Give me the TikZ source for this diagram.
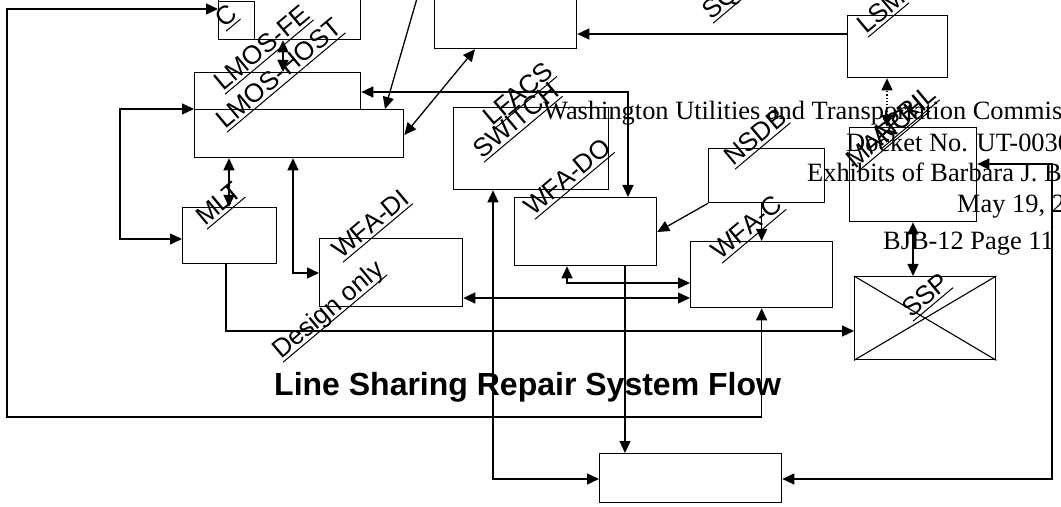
\documentclass[tikz,border=0pt]{standalone}
\usepackage{fontspec}
\setmainfont{Liberation Serif}
\newfontfamily\lblfont{Liberation Sans}
\usetikzlibrary{arrows.meta}
\newsavebox\ulbox
\newcommand\ulx[1]{\sbox\ulbox{#1}\rlap{\rule[-3.5bp]{\wd\ulbox}{1bp}}\usebox\ulbox}
\tikzset{
  box/.style={draw, line width=1.3bp, inner sep=0pt, anchor=north west},
  arr/.style={line width=1.3bp, -{Triangle[length=12bp,width=11bp]}},
  dbl/.style={line width=1.3bp, {Triangle[length=12bp,width=11bp]}-{Triangle[length=12bp,width=11bp]}},
  lbl/.style={font=\lblfont\fontsize{26bp}{30bp}\selectfont, rotate=40, anchor=base west, inner sep=0pt},
  wm/.style={font=\fontsize{26.4bp}{30bp}\selectfont, anchor=base west, inner sep=0pt},
  ttl/.style={font=\lblfont\bfseries\fontsize{32bp}{36bp}\selectfont, anchor=base west, inner sep=0pt}
}
\begin{document}
\begin{tikzpicture}[x=1bp,y=-1bp]
\useasboundingbox (0,0) rectangle (1061,507);
\clip (0,0) rectangle (1061,507);
% boxes
\node[box, minimum width=142bp, minimum height=59bp] (bigtop) at (218,-20) {};
\node[box, minimum width=36bp, minimum height=38bp] (c) at (218,1) {};
\node[box, minimum width=142bp, minimum height=68bp] (topbox) at (434,-20) {};
\node[box, minimum width=100bp, minimum height=62bp] (lsm) at (847,15) {};
\node[box, minimum width=166bp, minimum height=37bp] (lmosfe) at (194,72) {};
\node[box, minimum width=209bp, minimum height=48bp] (lmoshost) at (194,109) {};
\node[box, minimum width=155bp, minimum height=82bp] (lfacs) at (453,107) {};
\node[box, minimum width=116bp, minimum height=54bp] (nsdb) at (708,148) {};
\node[box, minimum width=127bp, minimum height=94bp] (march) at (849,127) {};
\node[box, minimum width=94bp, minimum height=56bp] (mlt) at (182,207) {};
\node[box, minimum width=142bp, minimum height=68bp] (wfado) at (514,197) {};
\node[box, minimum width=143bp, minimum height=68bp] (wfadi) at (319,238) {};
\node[box, minimum width=142bp, minimum height=66bp] (wfac) at (690,241) {};
\node[box, minimum width=141bp, minimum height=83bp] (ssp) at (854,276) {};
\node[box, minimum width=182bp, minimum height=49bp] (fas) at (599,453) {};
\draw[line width=1.1bp] (ssp.north west) -- (ssp.south east) (ssp.north east) -- (ssp.south west);
% free coordinates
\coordinate (loopBL) at (7,417);
\coordinate (loopTL) at (7,9);
\coordinate (lloopT) at (120,109);
\coordinate (lloopB) at (120,239);
\coordinate (topin) at (418,-5);
\coordinate (rtop) at (1052,164);
\coordinate (rbot) at (1052,479);
% connectors
\draw[dbl] (wfac.south) |- (loopBL) -- (loopTL) -- (c.west |- loopTL);
\draw[dbl] (bigtop.south -| 283,0) -- (lmosfe.north -| 283,0);
\draw[dbl] (lmosfe.east |- 0,92) -| (wfado.north -| 628,0);
\draw[arr] (topin) -- (lmoshost.north -| 385,0);
\draw[dbl] (topbox.south -| 475,0) -- (lmoshost.east |- 0,135);
\draw[arr] (lsm.west |- 0,34) -- (topbox.east |- 0,34);
\draw[dbl, dotted] (march.north -| 887,0) -- (lsm.south -| 887,0);
\draw[dbl] (march.south -| 913,0) -- (ssp.north -| 913,0);
\draw[dbl] (march.east |- rtop) -- (rtop) -- (rbot) -- (fas.east |- rbot);
\draw[dbl] (lmoshost.south -| 229,0) -- (mlt.north -| 229,0);
\draw[dbl] (lmoshost.north west) -- (lloopT) -- (lloopB) -- (mlt.west |- lloopB);
\draw[dbl] (lmoshost.south -| 293,0) |- (wfadi.west |- 0,273);
\draw[arr] (mlt.south -| 226,0) |- (ssp.west |- 0,331);
\draw[dbl] (wfadi.east |- 0,298) -- (wfac.west |- 0,298);
\draw[dbl] (wfado.south -| 567,0) |- (wfac.west |- 0,283);
\draw[arr] (wfado.south -| 625,0) -- (fas.north -| 625,0);
\draw[dbl] (lfacs.south -| 493,0) |- (fas.west |- 0,479);
\draw[arr] (nsdb.south west) -- (wfado.east |- 0,232);
\draw[arr] (nsdb.south -| wfac.north) -- (wfac.north);
% labels
\node[lbl] (lc) at (224,29) {\ulx{C}};
\node[lbl] (lfe) at (223,92) {\ulx{LMOS-FE}};
\node[lbl] (lhost) at (225,130) {\ulx{LMOS-HOST}};
\node[lbl] (llfacs) at (492,127) {\ulx{LFACS}};
\node[lbl] (lswitch) at (482,160) {\ulx{SWITCH}};
\node[lbl] (lwfado) at (533,217) {\ulx{WFA-DO}};
\node[lbl] (lnsdb) at (733,167) {\ulx{NSDB}};
\node[lbl] (lwfac) at (720,261) {\ulx{WFA-C}};
\node[lbl] (lwfadi) at (341,260) {\ulx{WFA-DI}};
\node[lbl] (ldesign) at (281,360) {\ulx{Design only}};
\node[lbl] (lmlt) at (205,227) {\ulx{MLT}};
\node[lbl] (lssp) at (911,319) {\ulx{SSP}};
\node[lbl] (lmarch) at (855,170) {\ulx{MARCH}};
\node[lbl] (lapril) at (880,146) {\ulx{APRIL}};
\node[lbl] (llsm) at (866,35) {\ulx{LSM}};
\node[lbl] (lsq) at (711,21) {\ulx{SQ}};
% title
\node[ttl] (title) at (274,395) {Line Sharing Repair System Flow};
% watermark
\node[wm] (w1) at (543,120) {Washington Utilities and Transportation Commission};
\node[wm] (w2) at (846,152) {Docket No. UT-0030};
\node[wm] (w3) at (807,182) {Exhibits of Barbara J. B};
\node[wm] (w4) at (957,213) {May 19, 20};
\node[wm] (w5) at (883,250) {BJB-12 Page 11};
\end{tikzpicture}
\end{document}
